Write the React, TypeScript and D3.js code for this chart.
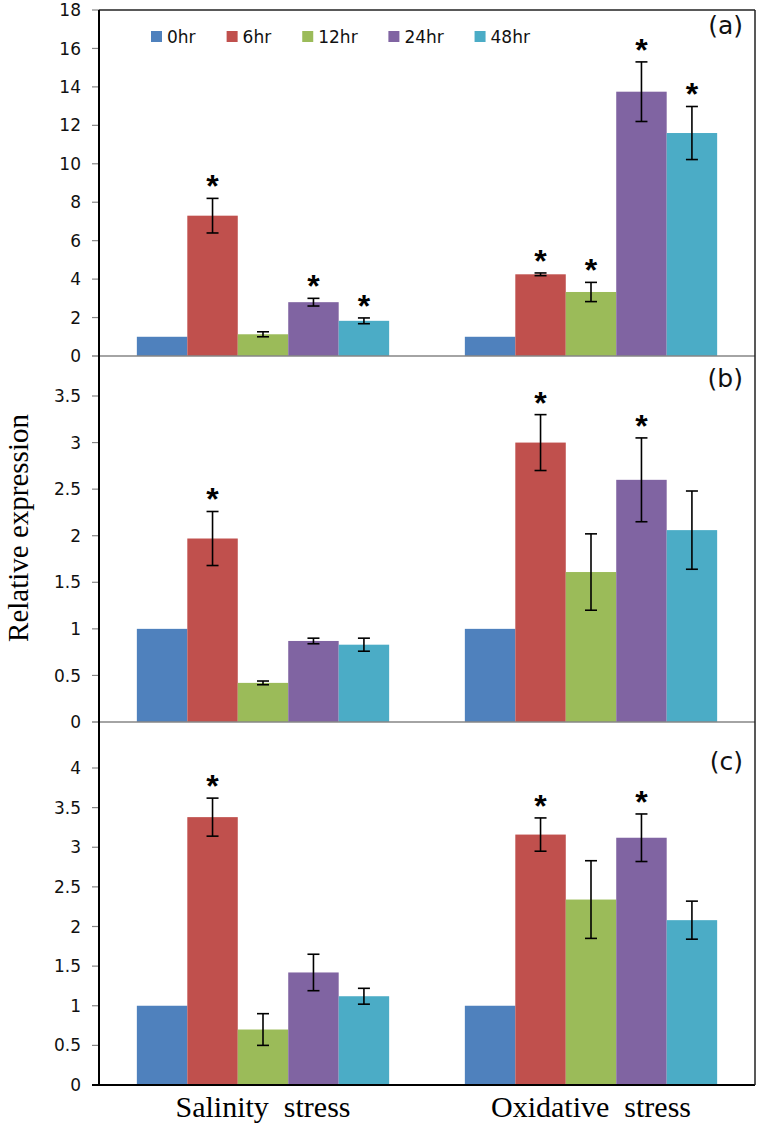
import React from 'react';
import * as d3 from 'd3';

const categories = ['Salinity  stress', 'Oxidative  stress'];
const seriesNames = ['0hr', '6hr', '12hr', '24hr', '48hr'];
const seriesColors = ['#4F81BD', '#C0504D', '#9BBB59', '#8064A2', '#4BACC6'];

// Panel (a)
const aSalinity = [1, 7.3, 1.13, 2.8, 1.83];
const aSalinityErr = [0, 0.9, 0.13, 0.2, 0.15];
const aOxidative = [1, 4.25, 3.33, 13.75, 11.6];
const aOxidativeErr = [0, 0.07, 0.5, 1.55, 1.38];
const aSalinitySig = [false, true, false, true, true];
const aOxidativeSig = [false, true, true, true, true];
const aTicks = [0, 2, 4, 6, 8, 10, 12, 14, 16, 18];

// Panel (b)
const bSalinity = [1, 1.97, 0.42, 0.87, 0.83];
const bSalinityErr = [0, 0.29, 0.02, 0.03, 0.07];
const bOxidative = [1, 3.0, 1.61, 2.6, 2.06];
const bOxidativeErr = [0, 0.3, 0.41, 0.45, 0.42];
const bSalinitySig = [false, true, false, false, false];
const bOxidativeSig = [false, true, false, true, false];
const bTicks = [0, 0.5, 1, 1.5, 2, 2.5, 3, 3.5];

// Panel (c)
const cSalinity = [1, 3.38, 0.7, 1.42, 1.12];
const cSalinityErr = [0, 0.24, 0.2, 0.23, 0.1];
const cOxidative = [1, 3.16, 2.34, 3.12, 2.08];
const cOxidativeErr = [0, 0.21, 0.49, 0.3, 0.24];
const cSalinitySig = [false, true, false, false, false];
const cOxidativeSig = [false, true, false, true, false];
const cTicks = [0, 0.5, 1, 1.5, 2, 2.5, 3, 3.5, 4];

const panelLabels = ['(a)', '(b)', '(c)'];

const W = 762;
const H = 1127;
const left = 99;
const right = 755;
const top = 10;

const sansFont = "'DejaVu Sans', Verdana, sans-serif";
const serifFont = "'Liberation Serif', 'Times New Roman', serif";

export default function App() {
  const panels = [
    {
      label: panelLabels[0], values: [aSalinity, aOxidative], errs: [aSalinityErr, aOxidativeErr],
      sig: [aSalinitySig, aOxidativeSig], ticks: aTicks,
      y: d3.scaleLinear().domain([0, 18]).range([356, 10]), labelY: 34, zeroColor: '#868686',
    },
    {
      label: panelLabels[1], values: [bSalinity, bOxidative], errs: [bSalinityErr, bOxidativeErr],
      sig: [bSalinitySig, bOxidativeSig], ticks: bTicks,
      y: d3.scaleLinear().domain([0, 3.5]).range([722, 396]), labelY: 387, zeroColor: '#868686',
    },
    {
      label: panelLabels[2], values: [cSalinity, cOxidative], errs: [cSalinityErr, cOxidativeErr],
      sig: [cSalinitySig, cOxidativeSig], ticks: cTicks,
      y: d3.scaleLinear().domain([0, 4]).range([1085, 768]), labelY: 770, zeroColor: '#000',
    },
  ];

  const x0 = d3.scaleBand<string>().domain(categories).range([left, right]).padding(0);
  const bw = x0.bandwidth();
  const gap = (bw * 0.75) / 6.5;
  const x1 = d3.scaleBand<string>().domain(seriesNames).range([gap, bw - gap]).padding(0);

  // legend layout
  const legendX: number[] = [];
  let lx = 151;
  seriesNames.forEach((s) => {
    legendX.push(lx);
    const tw = s.length * 0.62 * 17;
    lx += 11 + 5 + tw + 28;
  });

  return (
    <svg width={W} height={H} style={{ position: 'absolute', left: 0, top: 0, background: '#fff' }}>
      <rect x={0} y={0} width={W} height={H} fill="#fff" />
      {panels.map((p, pi) => (
        <g key={pi}>
          {categories.map((cat, ci) =>
            seriesNames.map((s, si) => {
              const v = p.values[ci][si];
              const bx = (x0(cat) as number) + (x1(s) as number);
              const w = x1.bandwidth();
              const y0 = p.y(0);
              const yv = p.y(v);
              const e = p.errs[ci][si];
              const cx = bx + w / 2;
              const eTop = p.y(v + e);
              const eBot = p.y(v - e);
              return (
                <g key={cat + s}>
                  <rect x={bx} y={yv} width={w} height={y0 - yv} fill={seriesColors[si]} />
                  {e > 0 && (
                    <g stroke="#000" strokeWidth={1.6}>
                      <line x1={cx} x2={cx} y1={eTop} y2={eBot} />
                      <line x1={cx - 6} x2={cx + 6} y1={eTop} y2={eTop} />
                      <line x1={cx - 6} x2={cx + 6} y1={eBot} y2={eBot} />
                    </g>
                  )}
                  {p.sig[ci][si] && (
                    <text x={cx} y={eTop - 1} textAnchor="middle" fontFamily="'Liberation Sans', Arial, sans-serif"
                      fontWeight="bold" fontSize={32} fill="#000">*</text>
                  )}
                </g>
              );
            })
          )}
          <line x1={92} x2={right} y1={p.y(0)} y2={p.y(0)} stroke={p.zeroColor} strokeWidth={pi === 2 ? 2 : 1.5} />
          {p.ticks.map((t) => (
            <g key={t}>
              {t !== 0 && <line x1={92} x2={left} y1={p.y(t)} y2={p.y(t)} stroke="#868686" strokeWidth={1.2} />}
              <text x={81} y={p.y(t)} dy="0.36em" textAnchor="end" fontFamily={sansFont} fontSize={17} fill="#111">
                {String(t)}
              </text>
            </g>
          ))}
          <text x={743} y={p.labelY} textAnchor="end" fontFamily={sansFont} fontSize={25} fill="#111">{p.label}</text>
        </g>
      ))}
      <line x1={left} x2={right} y1={top} y2={top} stroke="#222" strokeWidth={1.5} />
      <line x1={right} x2={right} y1={top} y2={1085} stroke="#222" strokeWidth={1.5} />
      <line x1={left} x2={left} y1={top} y2={1086} stroke="#000" strokeWidth={2} />

      {seriesNames.map((s, i) => (
        <g key={s}>
          <rect x={legendX[i]} y={31} width={11} height={11} fill={seriesColors[i]} />
          <text x={legendX[i] + 16} y={43} fontFamily={sansFont} fontSize={17} fill="#111">{s}</text>
        </g>
      ))}

      {categories.map((c) => (
        <text key={c} x={(x0(c) as number) + bw / 2} y={1117} textAnchor="middle" fontFamily={serifFont}
          fontSize={30} fill="#000" style={{ whiteSpace: 'pre' }}>{c}</text>
      ))}

      <text transform="translate(28,528) rotate(-90)" textAnchor="middle" fontFamily={serifFont} fontSize={29} fill="#000">
        Relative expression
      </text>
    </svg>
  );
}
